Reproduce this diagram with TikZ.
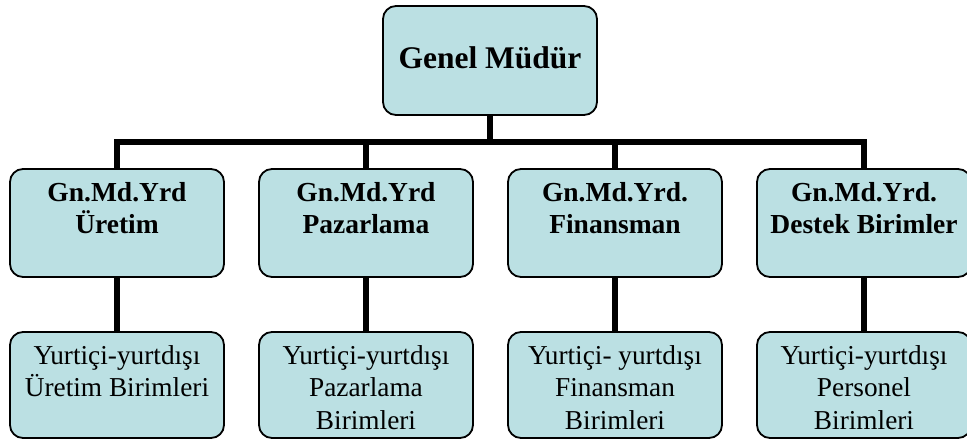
\documentclass[tikz,border=0pt]{standalone}
\usepackage{fontspec}
\setmainfont{Liberation Serif}
\definecolor{boxfill}{RGB}{187,224,227}

% text block of fixed size, set from the top of the box
\newcommand{\orgtext}[3]{\begin{minipage}[c][#1][t]{214pt}\centering
  \rule{0pt}{32pt}#3\end{minipage}}

\begin{document}
\begin{tikzpicture}[x=1pt,y=-1pt,
  orgbox/.style={draw=black, line width=1.8pt, fill=boxfill,
    rounded corners=13pt, inner sep=0pt, minimum width=214pt},
  headfont/.style={font=\fontsize{31.5}{36}\selectfont\bfseries},
  deputyfont/.style={font=\fontsize{27.5}{32}\selectfont\bfseries},
  unitfont/.style={font=\fontsize{27.3}{32.5}\selectfont},
  conn/.style={draw=black, line width=6pt}]

\useasboundingbox (0,0) rectangle (967,439);

% general manager
\node[orgbox, headfont, minimum height=109pt, text depth=0pt] (gm) at (490,60.5) {};
\node[headfont, anchor=base] (gmtext) at (490,68) {Genel Müdür};

% deputies
\node[orgbox, deputyfont] (d1) at (117,223) {\orgtext{108pt}{}{Gn.Md.Yrd\\Üretim}};
\node[orgbox, deputyfont] (d2) at (366,223) {\orgtext{108pt}{}{Gn.Md.Yrd\\Pazarlama}};
\node[orgbox, deputyfont] (d3) at (615,223) {\orgtext{108pt}{}{Gn.Md.Yrd.\\Finansman}};
\node[orgbox, deputyfont] (d4) at (864,223) {\orgtext{108pt}{}{Gn.Md.Yrd.\\Destek Birimler}};

% units
\node[orgbox, unitfont] (u1) at (117,385) {\orgtext{106pt}{}{Yurtiçi-yurtdışı\\Üretim Birimleri}};
\node[orgbox, unitfont] (u2) at (366,385) {\orgtext{106pt}{}{Yurtiçi-yurtdışı\\Pazarlama\\Birimleri}};
\node[orgbox, unitfont] (u3) at (615,385) {\orgtext{106pt}{}{Yurtiçi- yurtdışı\\Finansman\\Birimleri}};
\node[orgbox, unitfont] (u4) at (864,385) {\orgtext{106pt}{}{Yurtiçi-yurtdışı\\Personel\\Birimleri}};

% connectors
\coordinate (bus) at (490,142);
\draw[conn] (gm.south) -- (bus);
\draw[conn] (d1.north) |- (bus);
\draw[conn] (d4.north) |- (bus);
\draw[conn] (d2.north) -- (d2.north |- bus);
\draw[conn] (d3.north) -- (d3.north |- bus);
\draw[conn] (d1.south) -- (u1.north);
\draw[conn] (d2.south) -- (u2.north);
\draw[conn] (d3.south) -- (u3.north);
\draw[conn] (d4.south) -- (u4.north);
\end{tikzpicture}
\end{document}
